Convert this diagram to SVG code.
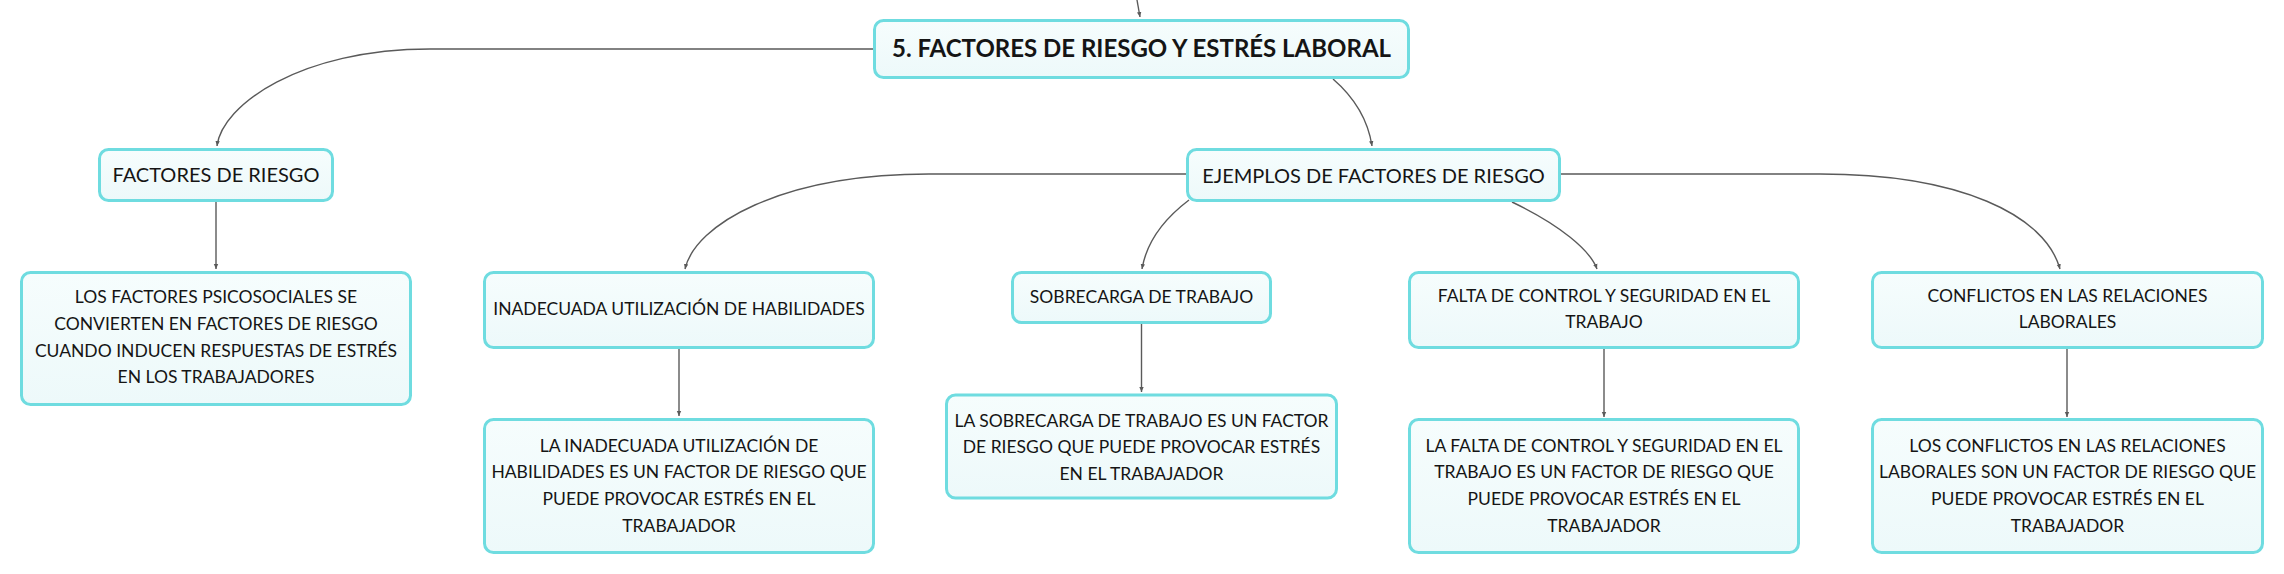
<svg xmlns="http://www.w3.org/2000/svg" width="2284" height="574" viewBox="0 0 2284 574">
<style>
.node{fill:url(#nodeFill);stroke:#6fdce0;stroke-width:3}
.t{font-family:Lato,"Liberation Sans","DejaVu Sans",sans-serif;fill:#151515;text-anchor:middle}
.t0{font-size:24px;font-weight:bold}
.t1{font-size:20px}
.t2{font-size:17.5px}
.conn path{fill:none;stroke:#5a5a5a;stroke-width:1.4;marker-end:url(#arr)}
</style>
<defs>
<linearGradient id="nodeFill" x1="0" y1="0" x2="0" y2="1">
<stop offset="0" stop-color="#f6fdfd"/>
<stop offset="1" stop-color="#edf9fa"/>
</linearGradient>
<marker id="arr" markerUnits="userSpaceOnUse" markerWidth="6" markerHeight="6" refX="5" refY="3" orient="auto">
<path d="M0,0.8 L5,3 L0,5.2 z" fill="#5a5a5a"/>
</marker>
</defs>
<rect width="2284" height="574" fill="#ffffff"/>
<g id="connectors" class="conn">
<path d="M1137,0 L1140,17"/>
<path d="M873,49 L430,49 C300,49 222,105 217,146"/>
<path d="M1333,79 C1355,98 1368,120 1372,146"/>
<path d="M216,202 L216,269"/>
<path d="M1186,174 L929,174 C780,174 695,225 685,269"/>
<path d="M1189,200 C1160,222 1146,245 1142,269"/>
<path d="M1512,202 C1560,225 1590,250 1597,269"/>
<path d="M1561,174 L1820,174 C1960,174 2045,215 2060,269"/>
<path d="M679,349 L679,416"/>
<path d="M1141.5,324 L1141.5,392"/>
<path d="M1604,349 L1604,417"/>
<path d="M2067,349 L2067,417"/>
</g>
<g id="root">
<rect class="node" x="874.5" y="20.5" width="534" height="57" rx="9"/>
<text class="t t0" x="1141.5" y="56.7">5. FACTORES DE RIESGO Y ESTRÉS LABORAL</text>
</g>
<g id="factores">
<rect class="node" x="99.5" y="149.5" width="233" height="51" rx="9"/>
<text class="t t1" x="216" y="182.3">FACTORES DE RIESGO</text>
</g>
<g id="ejemplos">
<rect class="node" x="1187.5" y="149.5" width="372" height="51" rx="9"/>
<text class="t t1" x="1373.5" y="182.7">EJEMPLOS DE FACTORES DE RIESGO</text>
</g>
<g id="psicosociales">
<rect class="node" x="21.5" y="272.5" width="389" height="132" rx="9"/>
<text class="t t2" x="216" y="303.3">LOS FACTORES PSICOSOCIALES SE</text>
<text class="t t2" x="216" y="330">CONVIERTEN EN FACTORES DE RIESGO</text>
<text class="t t2" x="216" y="356.7">CUANDO INDUCEN RESPUESTAS DE ESTRÉS</text>
<text class="t t2" x="216" y="383.3">EN LOS TRABAJADORES</text>
</g>
<g id="inadecuada">
<rect class="node" x="484.5" y="272.5" width="389" height="75" rx="9"/>
<text class="t t2" x="679" y="315">INADECUADA UTILIZACIÓN DE HABILIDADES</text>
</g>
<g id="inadecuada-desc">
<rect class="node" x="484.5" y="419.5" width="389" height="133" rx="9"/>
<text class="t t2" x="679" y="451.7">LA INADECUADA UTILIZACIÓN DE</text>
<text class="t t2" x="679" y="478.3">HABILIDADES ES UN FACTOR DE RIESGO QUE</text>
<text class="t t2" x="679" y="505">PUEDE PROVOCAR ESTRÉS EN EL</text>
<text class="t t2" x="679" y="531.7">TRABAJADOR</text>
</g>
<g id="sobrecarga">
<rect class="node" x="1012.5" y="272.5" width="258" height="50" rx="9"/>
<text class="t t2" x="1141.5" y="303.3">SOBRECARGA DE TRABAJO</text>
</g>
<g id="sobrecarga-desc">
<rect class="node" x="946.5" y="395" width="390" height="103" rx="9"/>
<text class="t t2" x="1141.5" y="426.7">LA SOBRECARGA DE TRABAJO ES UN FACTOR</text>
<text class="t t2" x="1141.5" y="453.3">DE RIESGO QUE PUEDE PROVOCAR ESTRÉS</text>
<text class="t t2" x="1141.5" y="480">EN EL TRABAJADOR</text>
</g>
<g id="falta">
<rect class="node" x="1409.5" y="272.5" width="389" height="75" rx="9"/>
<text class="t t2" x="1604" y="301.7">FALTA DE CONTROL Y SEGURIDAD EN EL</text>
<text class="t t2" x="1604" y="328.3">TRABAJO</text>
</g>
<g id="falta-desc">
<rect class="node" x="1409.5" y="419.5" width="389" height="133" rx="9"/>
<text class="t t2" x="1604" y="451.7">LA FALTA DE CONTROL Y SEGURIDAD EN EL</text>
<text class="t t2" x="1604" y="478.3">TRABAJO ES UN FACTOR DE RIESGO QUE</text>
<text class="t t2" x="1604" y="505">PUEDE PROVOCAR ESTRÉS EN EL</text>
<text class="t t2" x="1604" y="531.7">TRABAJADOR</text>
</g>
<g id="conflictos">
<rect class="node" x="1872.5" y="272.5" width="390" height="75" rx="9"/>
<text class="t t2" x="2067.5" y="301.7">CONFLICTOS EN LAS RELACIONES</text>
<text class="t t2" x="2067.5" y="328.3">LABORALES</text>
</g>
<g id="conflictos-desc">
<rect class="node" x="1872.5" y="419.5" width="390" height="133" rx="9"/>
<text class="t t2" x="2067.5" y="451.7">LOS CONFLICTOS EN LAS RELACIONES</text>
<text class="t t2" x="2067.5" y="478.3">LABORALES SON UN FACTOR DE RIESGO QUE</text>
<text class="t t2" x="2067.5" y="505">PUEDE PROVOCAR ESTRÉS EN EL</text>
<text class="t t2" x="2067.5" y="531.7">TRABAJADOR</text>
</g>
</svg>
